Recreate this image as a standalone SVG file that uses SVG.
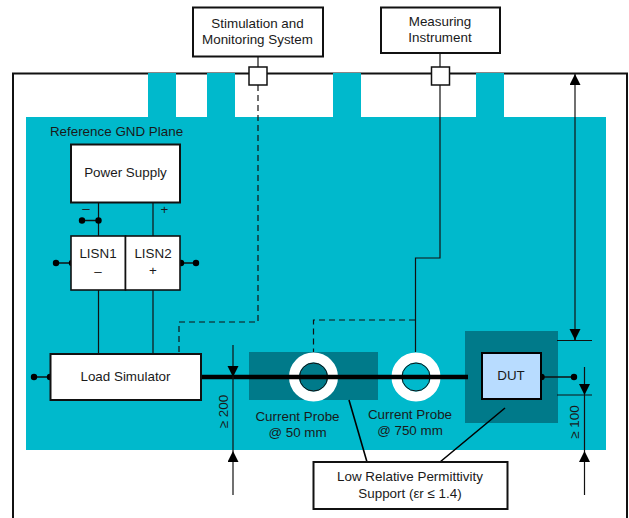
<svg xmlns="http://www.w3.org/2000/svg" width="629" height="518" viewBox="0 0 629 518">
<style>
text{font-family:"Liberation Sans",Arial,sans-serif;font-size:13.400px;fill:#1a1a1a;text-anchor:middle}
.box{fill:#fff;stroke:#111;stroke-width:2}
.ln{fill:none;stroke:#111;stroke-width:1.200}
.dash{fill:none;stroke:#111;stroke-width:1.200;stroke-dasharray:6 4}
.cy{fill:#00b9cc}
.dk{fill:#007a8a}
.dot{fill:#000}
</style>
<defs>
<marker id="ah" markerUnits="userSpaceOnUse" markerWidth="12" markerHeight="12" refX="11" refY="5.500" orient="auto"><path d="M0 0L11 5.500L0 11z" fill="#000"/></marker>
</defs>
<g id="chamber">
<rect x="13" y="73.500" width="614" height="460" fill="#fff" stroke="#111" stroke-width="2"/>
<rect class="cy" x="26" y="117" width="580" height="333"/>
<rect class="cy" x="148" y="73" width="28" height="44"/>
<rect class="cy" x="207" y="73" width="28" height="44"/>
<rect class="cy" x="333" y="73" width="28" height="44"/>
<rect class="cy" x="476" y="73" width="28" height="44"/>
<text x="116.500" y="136">Reference GND Plane</text>
</g>
<g id="supports">
<rect class="dk" x="249" y="352" width="129" height="48"/>
<rect class="dk" x="465" y="331" width="93" height="92"/>
</g>
<g id="probe1"><circle cx="313.500" cy="377" r="19.500" fill="none" stroke="#fff" stroke-width="10"/><circle cx="313.500" cy="377" r="14" fill="none" stroke="#111" stroke-width="1"/><text x="297.500" y="420.500">Current Probe</text><text x="297.500" y="436.500">@ 50 mm</text></g>
<g id="probe2"><circle cx="416" cy="377" r="19.500" fill="none" stroke="#fff" stroke-width="10"/><circle cx="416" cy="377" r="14" fill="none" stroke="#111" stroke-width="1"/><text x="410" y="419">Current Probe</text><text x="410" y="435">@ 750 mm</text></g>
<g id="connectors">
<path class="ln" d="M258 56V67"/>
<path class="dash" d="M258 85V322H179V354"/>
<path class="ln" d="M440 53V67M440 85V258H415.500V352"/>
<path class="dash" d="M415 320H313.500V352"/>
<path class="ln" d="M98.500 202V236M153 202V236M98.500 290V354M153 290V354"/>
<path class="ln" d="M82 220.500H98.500M56 263H71M180 263H196M34 377H50M541 377H574" style="stroke-width:1.500"/>
<path d="M201 377H468" fill="none" stroke="#000" stroke-width="4.500"/>
<path d="M349 400L367 462M505 408L440 462" fill="none" stroke="#000" stroke-width="1.600"/>
<path class="ln" d="M233 345V377" marker-end="url(#ah)"/>
<path class="ln" d="M233 495V451" marker-end="url(#ah)"/>
<path class="ln" d="M233 377V451"/>
<path class="ln" d="M575 340V74" marker-end="url(#ah)"/>
<path class="ln" d="M575 329V340" marker-end="url(#ah)"/>
<path class="ln" d="M584.500 367V395" marker-end="url(#ah)"/>
<path class="ln" d="M584.500 495V451" marker-end="url(#ah)"/>
<path class="ln" d="M584.500 395V451"/>
<path class="ln" d="M557 340.500H592M557 395H592"/>
<circle class="dot" cx="82" cy="220.500" r="3.200"/><circle class="dot" cx="98.500" cy="220.500" r="3.200"/>
<circle class="dot" cx="56" cy="263" r="3.200"/><circle class="dot" cx="72" cy="263" r="3.200"/>
<circle class="dot" cx="181" cy="263" r="3.200"/><circle class="dot" cx="196" cy="263" r="3.200"/>
<circle class="dot" cx="34" cy="377" r="3.200"/><circle class="dot" cx="50" cy="377" r="3.200"/>
<circle class="dot" cx="541.500" cy="377" r="3.200"/><circle class="dot" cx="574" cy="377" r="3.200"/>
</g>
<g id="stim"><rect class="box" x="193" y="7.500" width="130" height="49"/><text x="257.500" y="28">Stimulation and</text><text x="257.500" y="44">Monitoring System</text></g>
<g id="meas"><rect class="box" x="381" y="7.500" width="119" height="45.500"/><text x="440" y="26">Measuring</text><text x="440" y="42">Instrument</text></g>
<g id="port1"><rect class="box" x="249" y="67" width="18" height="18" style="stroke-width:1.500"/></g>
<g id="port2"><rect class="box" x="431.500" y="67" width="18" height="18" style="stroke-width:1.500"/></g>
<g id="psu"><rect class="box" x="71" y="144.500" width="109" height="58"/><text x="125.500" y="177">Power Supply</text><text x="86" y="213">–</text><text x="164.500" y="214">+</text></g>
<g id="lisn1"><rect class="box" x="71" y="236" width="54.500" height="54" style="stroke-width:1.600"/><text x="98" y="258">LISN1</text><text x="98" y="276">–</text></g>
<g id="lisn2"><rect class="box" x="125.500" y="236" width="54.500" height="54" style="stroke-width:1.600"/><text x="153" y="258">LISN2</text><text x="153" y="275">+</text></g>
<g id="load"><rect class="box" x="50.500" y="354" width="150.500" height="46"/><text x="125.500" y="381">Load Simulator</text></g>
<g id="dut"><rect x="482" y="353" width="59" height="46" fill="#b8dcff" stroke="#000" stroke-width="2"/><text x="511" y="380">DUT</text></g>
<g id="support-label"><rect class="box" x="313.500" y="462" width="194" height="47"/><text x="410" y="481">Low Relative Permittivity</text><text x="410" y="497.500">Support (εr ≤ 1.4)</text></g>
<g id="dims"><text transform="translate(228 411.500) rotate(-90)">≥ 200</text><text transform="translate(579 422) rotate(-90)">≥ 100</text></g>
</svg>
